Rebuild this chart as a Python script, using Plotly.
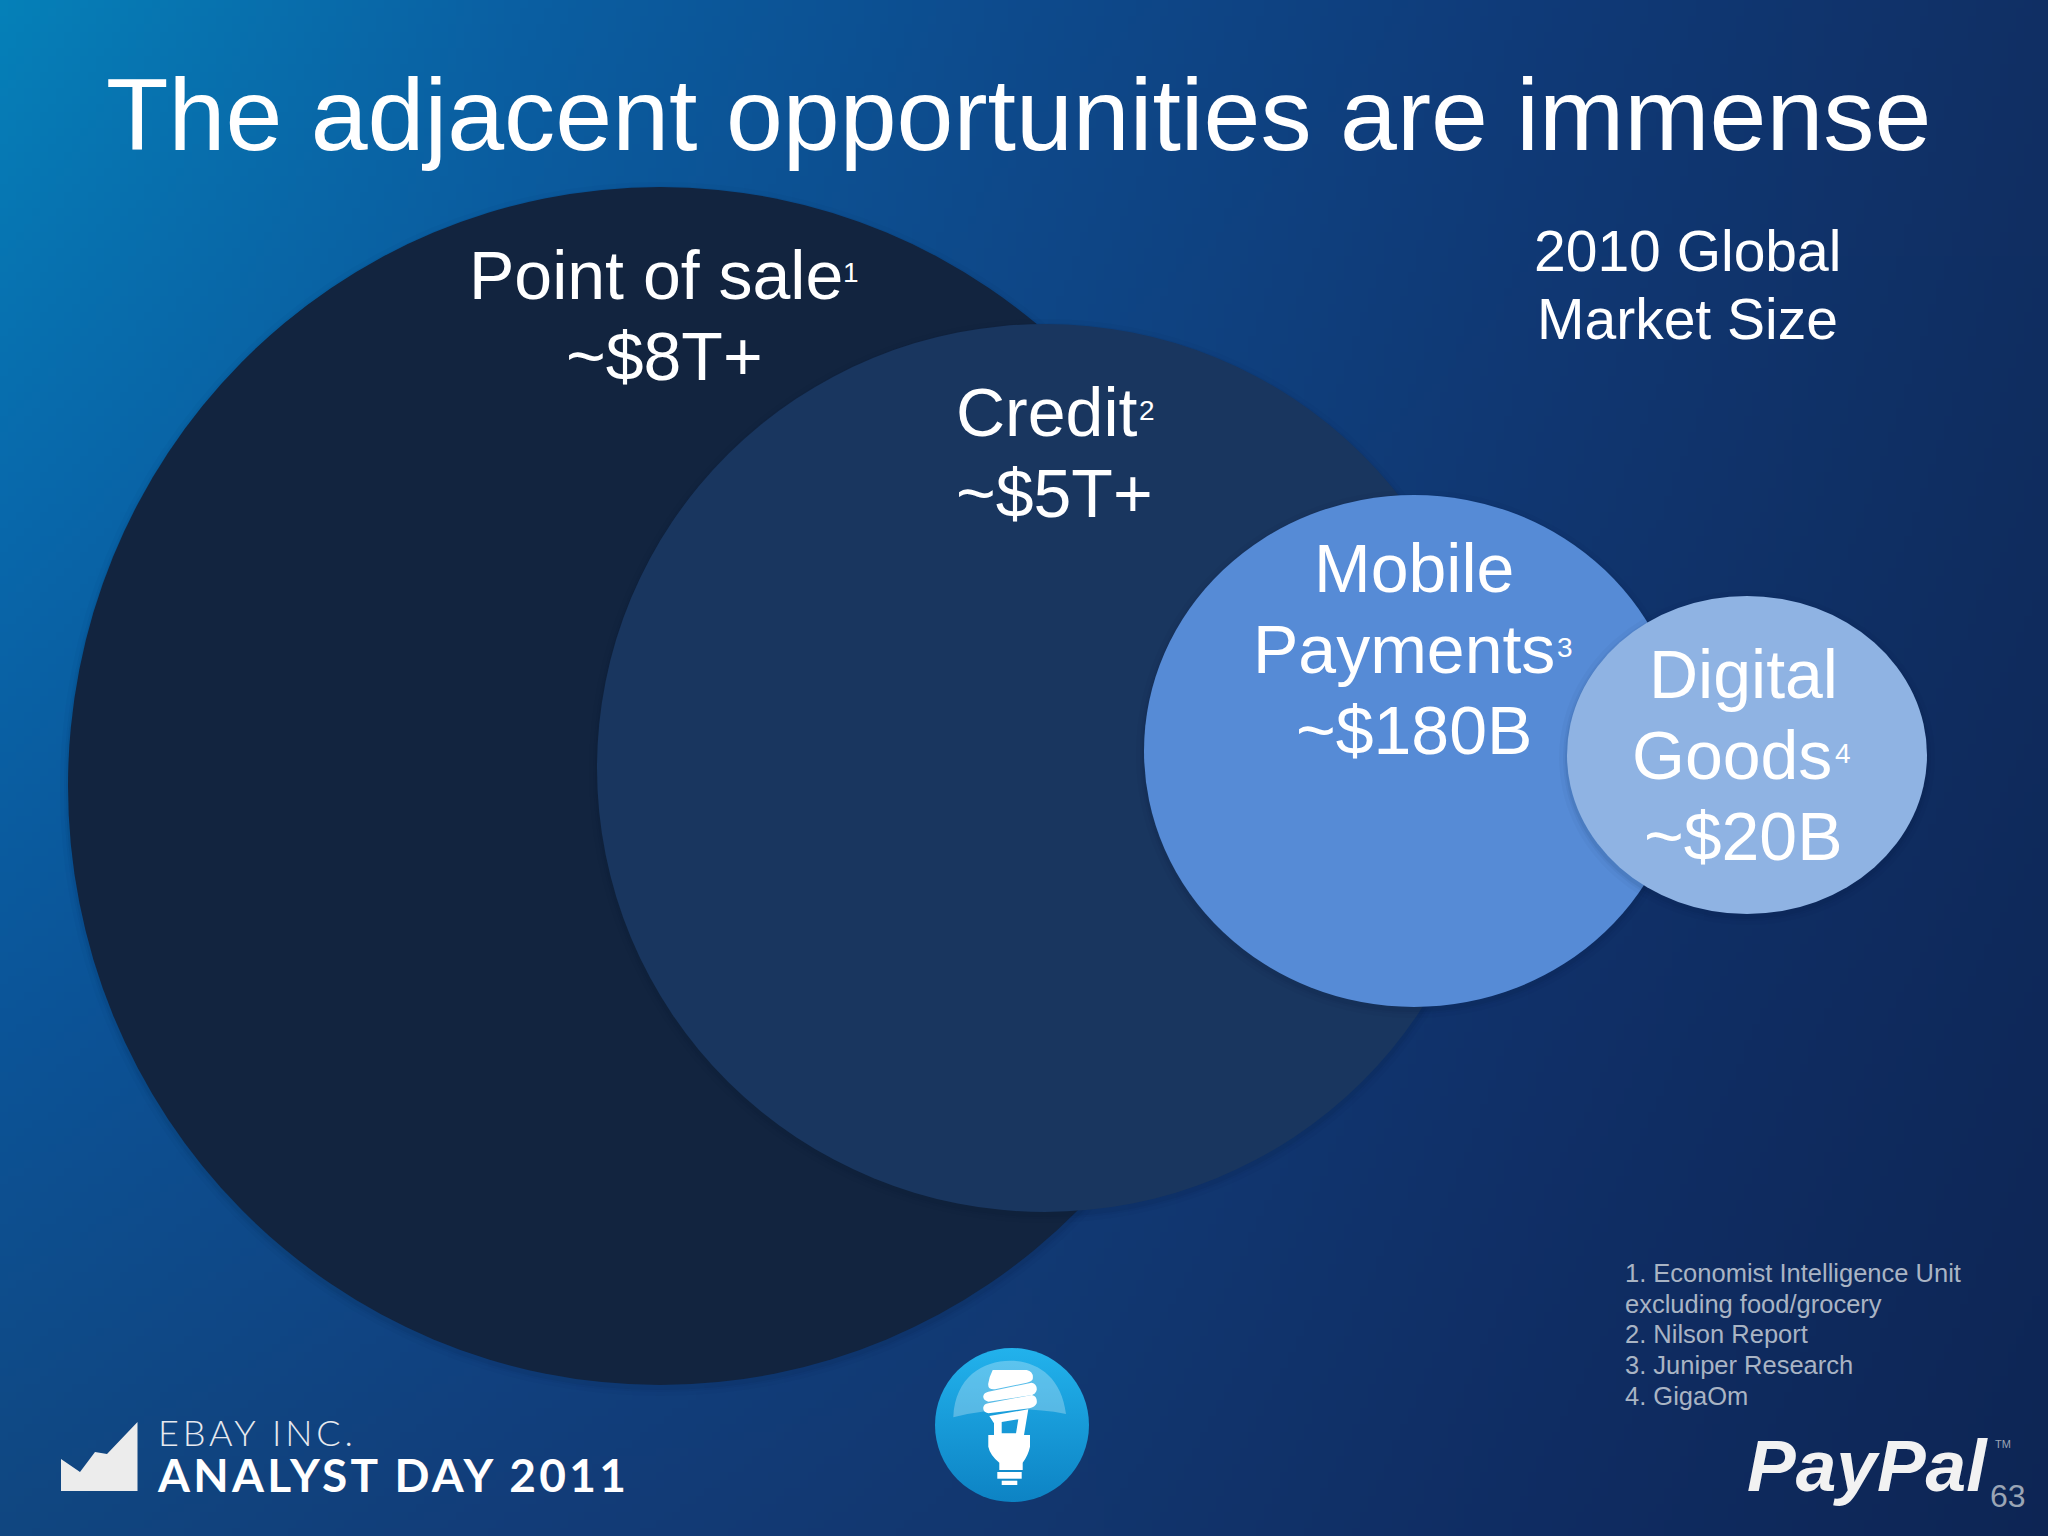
import numpy as np
import plotly.graph_objects as go

# what the slide says
slide_title = "The adjacent opportunities are immense"
size_heading = ["2010 Global", "Market Size"]
markets = ["Point of sale", "Credit", "Mobile Payments", "Digital Goods"]
market_lines = [["Point of sale"], ["Credit"], ["Mobile", "Payments"], ["Digital", "Goods"]]
market_sizes = ["~$8T+", "~$5T+", "~$180B", "~$20B"]
footnote_refs = ["1", "2", "3", "4"]
sources = [
    "1. Economist Intelligence Unit",
    "excluding food/grocery",
    "2. Nilson Report",
    "3. Juniper Research",
    "4. GigaOm",
]
page_number = "63"

# slide is laid out in pixels: x right, y down
W, H = 2048, 1536

# ellipses for the four markets (not to scale in the original either)
centre_x = [660, 1045, 1414, 1747]
centre_y = [786, 768, 751, 755]
radius_x = [592, 448, 270, 180]
radius_y = [599, 444, 256, 159]
fills = ["#12243f", "#19365f", "#568bd6", "#8fb3e3"]
label_x = [664, 1054, 1414, 1743]
# the line carrying the footnote mark sits left of the others
ref_line_x = [656, 1046, 1404, 1732]
ref_x = [851, 1147, 1565, 1843]
first_line_y = [274.5, 412, 568, 674]
line_pitch = 81

# background colours, coarse grid
bg_grid = [
    ["#0580b8", "#0a5fa2", "#0d4a8c", "#0f3a78", "#102f64"],
    ["#0868ab", "#0b5598", "#0f4483", "#103670", "#0f2c5e"],
    ["#0b5498", "#0e488a", "#113c78", "#103068", "#0e2859"],
    ["#104680", "#123c78", "#12366e", "#0f2c62", "#0d2554"],
]


def hex_rgb(c):
    return [int(c[i:i + 2], 16) for i in (1, 3, 5)]


grid = np.array([[hex_rgb(c) for c in row] for row in bg_grid], dtype=float)
rows, cols = grid.shape[:2]
iy = np.linspace(0, rows - 1, 192)
ix = np.linspace(0, cols - 1, 256)
y0 = np.minimum(iy.astype(int), rows - 2)
x0 = np.minimum(ix.astype(int), cols - 2)
fy = (iy - y0)[:, None, None]
fx = (ix - x0)[None, :, None]
bg = (
    grid[y0][:, x0] * (1 - fy) * (1 - fx)
    + grid[y0][:, x0 + 1] * (1 - fy) * fx
    + grid[y0 + 1][:, x0] * fy * (1 - fx)
    + grid[y0 + 1][:, x0 + 1] * fy * fx
)

fig = go.Figure()
fig.add_trace(go.Image(z=bg.round().astype(np.uint8), x0=4, y0=4, dx=8, dy=8, hoverinfo="skip"))

# bulb badge ball
fig.add_trace(go.Scatter(
    x=[1012], y=[1425], mode="markers", hoverinfo="skip",
    marker=dict(size=154, color="#22b2ec", gradient=dict(type="vertical", color="#0d83c4"), line=dict(width=0)),
))

shapes = []

# faint shadows then the ellipses, biggest first
for i in range(len(markets)):
    for grow, alpha in [(8, 0.025), (4, 0.04), (2, 0.05)]:
        shapes.append(dict(
            type="circle", xref="x", yref="y", layer="above",
            x0=centre_x[i] - radius_x[i] - grow, x1=centre_x[i] + radius_x[i] + grow,
            y0=centre_y[i] - radius_y[i] - grow + 3, y1=centre_y[i] + radius_y[i] + grow + 3,
            fillcolor="rgba(5,15,40,%s)" % alpha, line_width=0,
        ))
    shapes.append(dict(
        type="circle", xref="x", yref="y", layer="above",
        x0=centre_x[i] - radius_x[i], x1=centre_x[i] + radius_x[i],
        y0=centre_y[i] - radius_y[i], y1=centre_y[i] + radius_y[i],
        fillcolor=fills[i], line_width=0,
    ))


def add_path(points, fill):
    # points are in the 3x crop of the badge, origin (880, 1320)
    out = []
    for tok in points.split():
        if tok[0].isalpha():
            out.append(tok[0])
            tok = tok[1:]
        if tok:
            a, b = tok.split(",")
            out.append("%.1f,%.1f" % (880 + float(a) / 3, 1320 + float(b) / 3))
    shapes.append(dict(type="path", xref="x", yref="y", layer="above",
                       path=" ".join(out), fillcolor=fill, line_width=0))


add_path("M220,292 C225,170 310,122 390,122 C470,122 545,170 558,282 Q390,250 220,292 Z", "rgba(255,255,255,0.27)")
add_path("M338,150 L440,150 Q462,155 458,178 Q455,185 440,188 L345,208 Q322,210 325,190 Q328,170 338,150 Z", "white")
add_path("M325,215 L455,188 Q472,192 470,210 Q468,222 452,226 L325,245 Q308,240 310,228 Q312,218 325,215 Z", "white")
add_path("M325,250 L455,225 Q473,228 470,250 Q465,262 448,265 L325,280 Q308,275 310,262 Q312,252 325,250 Z", "white")
add_path("M328,288 L445,268 L432,345 L342,345 L342,310 Z M365,306 L415,298 L408,340 L365,340 Z", "white")
add_path("M325,345 L450,345 L450,380 Q445,405 428,428 L428,450 L358,450 L358,428 Q330,405 325,380 Z", "white")
add_path("M352,456 L425,456 L425,476 L352,476 Z", "white")
add_path("M365,482 L412,482 L412,495 L365,495 Z", "white")

# analyst day mark
shapes.append(dict(type="path", xref="x", yref="y", layer="above",
                   path="M61,1459 L80,1472 L95,1452 L107,1454 L137.5,1422 L137.5,1491 L61,1491 Z",
                   fillcolor="#ececec", line_width=0))

SANS = "Liberation Sans"
notes = []


def add_text(x, y, text, size, color="white", family=SANS, anchor="center", weight="normal", style="normal"):
    notes.append(dict(
        x=x, y=y, xref="x", yref="y", text=text, showarrow=False, xanchor=anchor, yanchor="middle",
        font=dict(family=family, size=size, color=color, weight=weight, style=style),
    ))


add_text(1018.5, 114, slide_title, 102.3)

for i in range(len(markets)):
    n = 0
    for line in market_lines[i]:
        last = line == market_lines[i][-1]
        add_text(ref_line_x[i] if last else label_x[i], first_line_y[i] + n * line_pitch, line, 68)
        if last:
            add_text(ref_x[i], first_line_y[i] + n * line_pitch - 2, footnote_refs[i], 28)
        n += 1
    add_text(label_x[i], first_line_y[i] + n * line_pitch, market_sizes[i], 68)

for n, line in enumerate(size_heading):
    add_text(1687, 251 + n * 68, line, 57)

for n, line in enumerate(sources):
    add_text(1623, 1273 + n * 30.7, line, 25.5, color="#a9b4c4", anchor="left")

add_text(155.5, 1432, '<span style="letter-spacing:3.9px">EBAY INC.</span>', 36, color="#e6e9ef",
         family="Lato Light", anchor="left")
add_text(155, 1474, '<span style="letter-spacing:3.3px">ANALYST DAY 2011</span>', 46, family="Lato",
         anchor="left", weight="bold")

add_text(1867, 1465, "PayPal", 73, color="#f2f2f2", weight="bold", style="italic")
add_text(2003, 1444, "TM", 11, color="#9aa5b5")
add_text(2008, 1496, page_number, 32, color="#9aa5b5")

fig.update_layout(
    width=W, height=H, margin=dict(l=0, r=0, t=0, b=0), showlegend=False,
    paper_bgcolor="#0e3a78", plot_bgcolor="rgba(0,0,0,0)",
    xaxis=dict(range=[0, W], visible=False, fixedrange=True, constrain="domain"),
    yaxis=dict(range=[H, 0], visible=False, fixedrange=True, constrain="domain", autorange=False),
    shapes=shapes, annotations=notes,
)

fig.write_html("out.html", post_script="document.body.style.margin='0';", config={"displayModeBar": False})
